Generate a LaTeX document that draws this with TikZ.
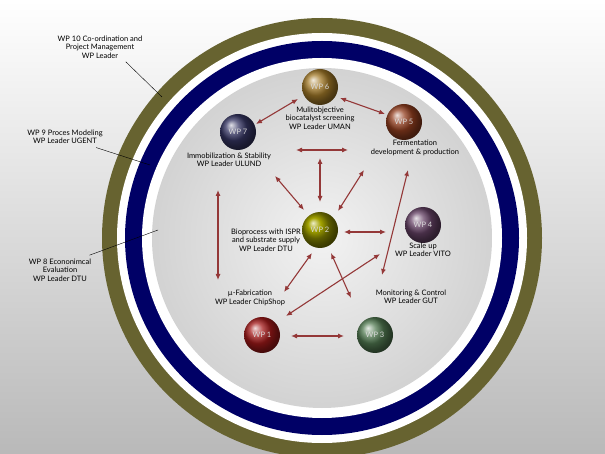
\documentclass[tikz,border=0pt]{standalone}
\usepackage{fontspec}
\setmainfont{Lato}
\usetikzlibrary{arrows.meta,positioning}
\tikzset{
  wpball/.style={circle,minimum size=36pt,inner sep=0pt,text=white!70!gray,font=\fontsize{7.5}{8.5}\selectfont},
  wplabel/.style={align=center,font=\fontsize{7.5}{8.5}\selectfont},
  link/.style={{Latex[length=6pt,width=5pt]}-{Latex[length=6pt,width=5pt]},line width=1.1pt,draw=red!45!gray!80!black},
  pointer/.style={draw=black,line width=0.4pt}
}
\begin{document}
\begin{tikzpicture}[x=1pt,y=-1pt]
  \shade[shading angle=45,top color=white,bottom color=gray!55] (0,0) rectangle (605,454);
  \useasboundingbox (0,0) rectangle (605,454);

  % rings
  \fill[olive!60!black!90!gray] (322,238) circle (220);
  \fill[white] (322,238) circle (205);
  \fill[blue!40!black] (322,238) circle (197);
  \fill[white] (322,238) circle (180);
  \shade[inner color=gray!10,outer color=gray!35] (322,238) circle (170);

  % work packages
  \node[wpball,ball color=brown!80!yellow!80!black] (wp6) at (320,87) {WP 6};
  \node[wpball,ball color=brown!70!red!70!black] (wp5) at (404,122) {WP 5};
  \node[wpball,ball color=blue!30!gray!60!black] (wp7) at (238,132) {WP 7};
  \node[wpball,ball color=olive!85!yellow!90!black] (wp2) at (320,230) {WP 2};
  \node[wpball,ball color=violet!35!gray!80!black] (wp4) at (423,225) {WP 4};
  \node[wpball,ball color=red!60!black!90] (wp1) at (262,335) {WP 1};
  \node[wpball,ball color=gray!80!green!80!black] (wp3) at (375,335) {WP 3};

  \node[wplabel] (l6) at (320,118) {Mulitobjective\\biocatalyst screening\\WP Leader UMAN};
  \node[wplabel] (l7) at (229,160) {Immobilization \& Stability\\WP Leader ULUND};
  \node[wplabel] (l5) at (415,148) {Fermentation\\development \& production};
  \node[wplabel] (l2) at (266,240) {Bioprocess with ISPR\\and substrate supply\\WP Leader DTU};
  \node[wplabel] (l4) at (423,250) {Scale up\\WP Leader VITO};
  \node[wplabel] (lf) at (250,298) {µ-Fabrication\\WP Leader ChipShop};
  \node[wplabel] (lm) at (411,297) {Monitoring \& Control\\WP Leader GUT};

  \node[wplabel] (l10) at (100,47) {WP 10 Co-ordination and\\Project Management\\WP Leader};
  \node[wplabel] (l9) at (65,137) {WP 9 Proces Modeling\\WP Leader UGENT};
  \node[wplabel] (l8) at (60,270) {WP 8 Econonimcal\\Evaluation\\WP Leader DTU};

  % pointers to the rings
  \coordinate (r10) at (162,97);
  \coordinate (r9) at (150,165);
  \coordinate (r8) at (158,230);
  \draw[pointer] (l10.south east) ++(-20,0) -- (r10);
  \draw[pointer] (l9.south east) ++(-10,0) -- (r9);
  \draw[pointer] (l8.north east) ++(-5,0) -- (r8);

  % links
  \coordinate (a1) at (256,124); \coordinate (b1) at (298,99);
  \coordinate (a2) at (340,98);  \coordinate (b2) at (385,114);
  \coordinate (a3) at (296,150); \coordinate (b3) at (348,150);
  \coordinate (a4) at (320,158); \coordinate (b4) at (320,202);
  \coordinate (a5) at (275,176); \coordinate (b5) at (304,210);
  \coordinate (a6) at (364,170); \coordinate (b6) at (338,211);
  \coordinate (a7) at (344,232); \coordinate (b7) at (386,232);
  \coordinate (a8) at (218,190); \coordinate (b8) at (218,280);
  \coordinate (a9) at (382,275); \coordinate (b9) at (408,170);
  \coordinate (a10) at (312,253); \coordinate (b10) at (284,292);
  \coordinate (a11) at (331,253); \coordinate (b11) at (351,298);
  \coordinate (a12) at (380,254); \coordinate (b12) at (286,316);
  \coordinate (a13) at (291,336); \coordinate (b13) at (344,336);
  \foreach \i in {1,...,13}
    \draw[link] (a\i) -- (b\i);
\end{tikzpicture}
\end{document}
